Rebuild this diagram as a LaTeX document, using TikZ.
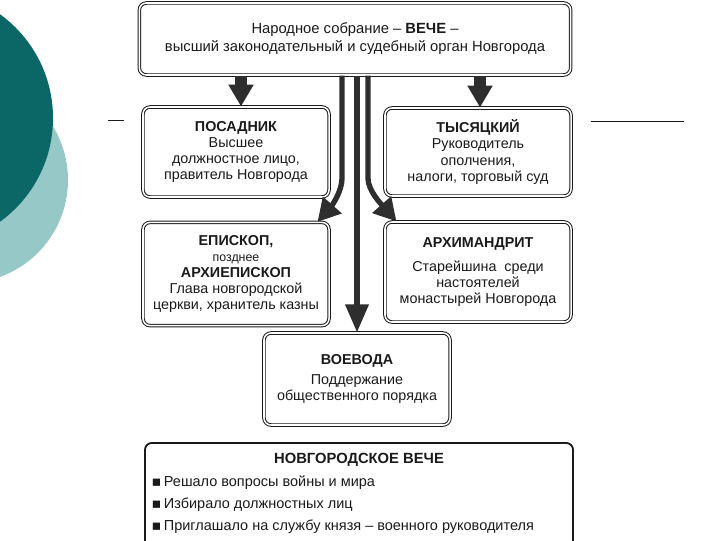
\documentclass[tikz,border=0pt]{standalone}
\usepackage{fontspec}
\setmainfont{Liberation Sans}
\newfontfamily\symfont{DejaVu Sans}
\usetikzlibrary{arrows.meta,positioning,calc}
\definecolor{vtealdark}{HTML}{0B6666}
\definecolor{vteallight}{HTML}{96C8C8}
\definecolor{vink}{HTML}{1A1A1A}
\definecolor{varrow}{HTML}{2E2E2E}
\tikzset{
  vbox/.style   ={rectangle, rounded corners=5pt, draw=vink, line width=0.7pt,
                  double=white, double distance=1.1pt, fill=white, align=center,
                  inner sep=2pt, font=\fontsize{10.2}{11.4}\selectfont, text=vink},
  vtop/.style   ={vbox, minimum width=10.78cm, minimum height=1.8cm,
                  font=\fontsize{10.5}{12.8}\selectfont},
  vpost/.style  ={vbox, minimum width=4.65cm},
  vframe/.style ={rectangle, rounded corners=5pt, draw=vink, line width=1.3pt,
                  fill=white, minimum width=10.7cm, minimum height=3cm},
  vblock/.style ={-{Triangle[length=15.6pt,width=17pt]}, line width=8.5pt, draw=varrow},
  vline/.style  ={-{Triangle[length=16pt,width=17pt]}, line width=3.8pt, draw=varrow},
  vtitle/.style ={font=\fontsize{10.5}{12}\selectfont\bfseries, text=vink},
  vitem/.style  ={anchor=west, font=\fontsize{10.3}{11}\selectfont, text=vink, inner sep=1pt},
}

\begin{document}
\begin{tikzpicture}[x=0.025cm, y=-0.025cm]
  \useasboundingbox (0,0) rectangle (720,540);
  \clip (0,0) rectangle (720,540);
  % slide decoration
  \fill[vteallight] (-35,180) circle (103);
  \fill[vtealdark] (-75,118) circle (128);
  \draw[vink, line width=0.6pt] (108,120) -- (124,120);
  \draw[vink, line width=0.6pt] (591,121) -- (684,121);
  % boxes
  \node[vtop] (veche) at (355,39)
    {Народное собрание – \textbf{ВЕЧЕ} –\\высший законодательный и судебный орган Новгорода};
  \node[vpost, minimum height=2.25cm] (posadnik) at (236,152)
    {\textbf{ПОСАДНИК}\\Высшее\\должностное лицо,\\правитель Новгорода};
  \node[vpost, minimum height=2.2cm] (tysyatsky) at (478,152)
    {\textbf{ТЫСЯЦКИЙ}\\Руководитель\\ополчения,\\налоги, торговый суд};
  \node[vpost, minimum height=2.58cm] (episkop) at (236,274)
    {\textbf{ЕПИСКОП,}\\{\fontsize{8.8}{11.4}\selectfont позднее}\\\textbf{АРХИЕПИСКОП}\\Глава новгородской\\церкви, хранитель казны};
  \node[vpost, minimum height=2.5cm] (archim) at (478,272)
    {\textbf{АРХИМАНДРИТ}\\[6pt]Старейшина\ \ среди\\настоятелей\\монастырей Новгорода};
  \node[vpost, minimum height=2.3cm] (voevoda) at (357,379)
    {\textbf{ВОЕВОДА}\\[3pt]Поддержание\\общественного порядка};
  % arrows
  \coordinate (pin) at ($(posadnik.north)+(5,0)$);
  \coordinate (tin) at ($(tysyatsky.north)+(2,0)$);
  \draw[vblock] (veche.south -| pin) -- (pin);
  \draw[vblock] (veche.south -| tin) -- (tin);
  \draw[vline] ($(veche.south)+(-13,0)$) -- ++(0,103)
    .. controls +(0,12) and +(15,-17) .. ([xshift=-0.3cm]episkop.north east);
  \draw[vline] ($(veche.south)+(13,0)$) -- ++(0,103)
    .. controls +(0,12) and +(-15,-17) .. ([xshift=0.3cm]archim.north west);
  \draw[vline, -{Triangle[length=20pt,width=16pt]}] (veche.south -| voevoda.north) -- (voevoda.north);
  % summary
  \node[vframe, anchor=north] (summary) at (359,442) {};
  \node[vtitle] (sumtitle) at (359,460) {НОВГОРОДСКОЕ ВЕЧЕ};
  \foreach \txt [count=\i] in {Решало вопросы войны и мира, Избирало должностных лиц,
      Приглашало на службу князя – военного руководителя}
    \node[vitem] (item\i) at (150,{461+22*\i}) {{\symfont ▪}\,\txt};
\end{tikzpicture}
\end{document}
